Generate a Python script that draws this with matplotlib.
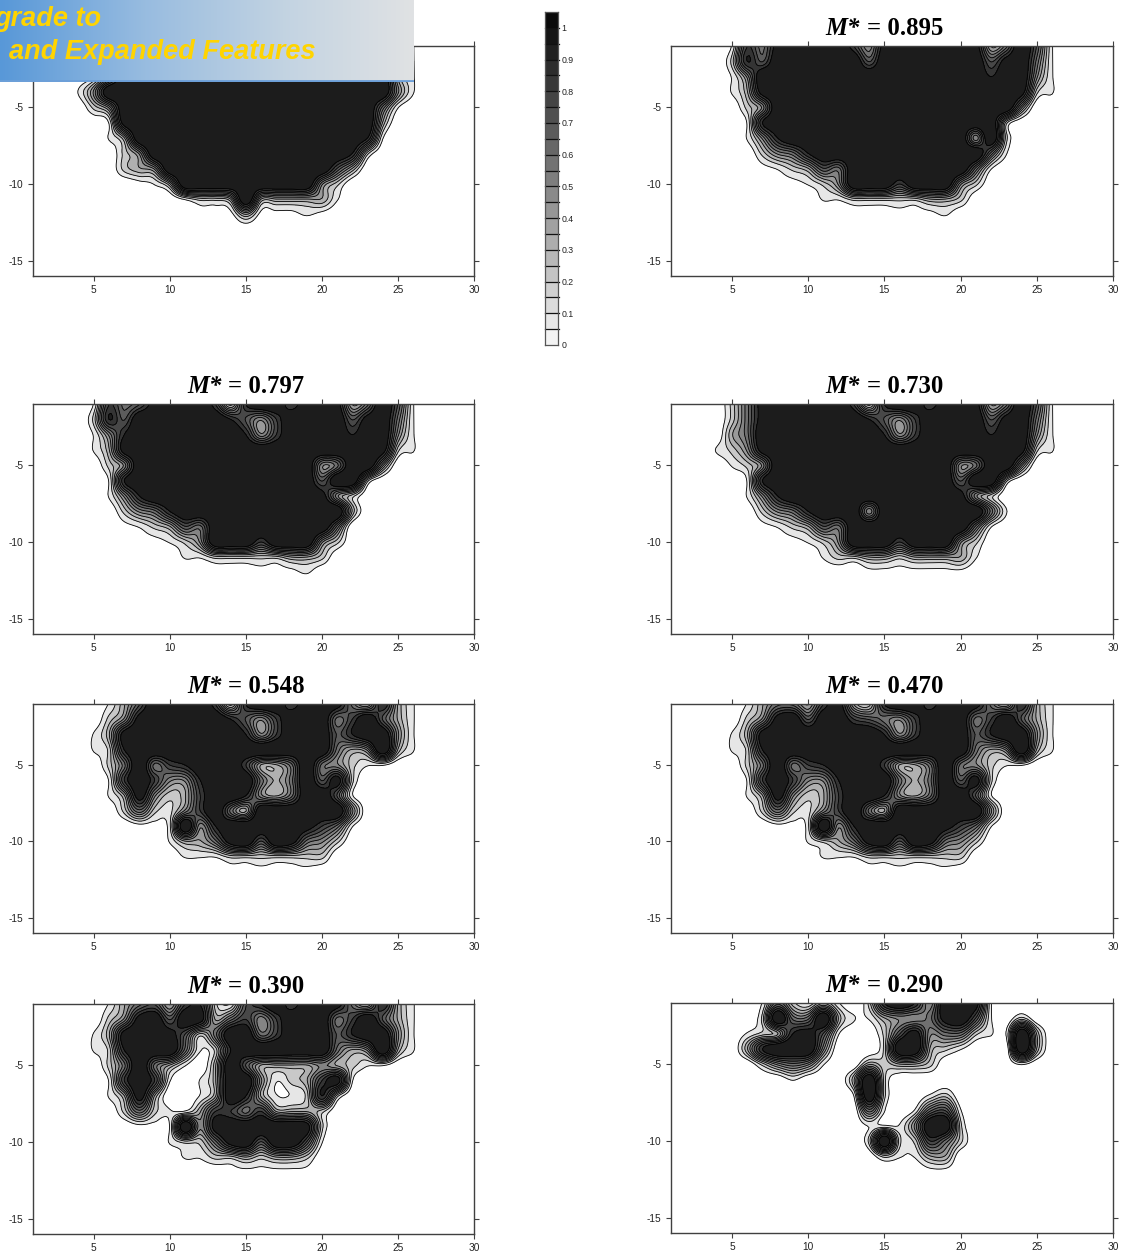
import numpy as np
import matplotlib
matplotlib.use("Agg")
import matplotlib.pyplot as plt

W, H = 1126, 1258

# Grid readings: each string is one depth row (y=-1, -2, ...), each char one x (1..30).
# Digits are tenths, A = 1.0, h = 0.05, k = 0.15; omitted cells are zero.
P1 = ["00001"+"38"+"A"*17+"51", "000025"+"A"*18+"41", "000014"+"A"*18+"31",
      "00014"+"A"*19+"41", "000024"+"A"*17+"51", "0000019"+"A"*16+"3",
      "0000013"+"A"*15+"81", "00000024"+"A"*13+"82", "000000234"+"A"*11+"63",
      "0000000h13"+"A"*9+"42", "0000000000"+"1223A333331", "00000000000"+"hhh3hhh1h"]
P2 = ["00001759AAAA749AAAAA935A61", "0000286AAAAAA6AAAAAAA69A51", "000014"+"A"*15+"8AA41",
      "0000139"+"A"*16+"921", "0000024A"+"A"*15+"4", "0000018"+"A"*15+"2",
      "00000148"+"A"*12+"4A2", "0000002458"+"A"*11+"51", "000000h12365"+"A"*8+"51",
      "0000000hh124AAA7AAA42", "0000000000"+"1122222332", "000000000000"+"hhhhhh1"]
P3 = ["000017569AAA728AA7AA935A61", "0000286"+"A"*6+"8647"+"A"*4+"69A51",
      "0000148"+"A"*7+"847"+"A"*4+"8AA41", "0000139"+"A"*16+"921",
      "0000024A"+"A"*11+"45AA4", "0000018"+"A"*12+"6AA2", "00000148"+"A"*11+"942",
      "0000002458"+"A"*11+"3", "000000h12365"+"A"*8+"5", "0000000hh124AAA7AAA42",
      "0000000000"+"1122222332", "000000000000"+"hhhhhh1"]
P4 = ["0000"+"259"+"A"*5+"728AA7AA935A61", "0000259"+"A"*6+"8647"+"A"*4+"69A51",
      "000035"+"A"*8+"847"+"A"*4+"8AA41", "0001249"+"A"*16+"921",
      "0000124A"+"A"*11+"45AA4", "0000018"+"A"*12+"6AA2", "00000148"+"A"*11+"942",
      "0000002458"+"AAA"+"4"+"A"*7+"51", "000000h12365"+"A"*8+"51",
      "0000000hh124AAA7AAA42", "0000000000"+"12233233331", "0"*13+"hhhhhhh"]
P5 = ["00000136AAAA728AA7AA953831", "00000249AAAAA8647AAA57A631",
      "0000139"+"A"*7+"847AAA68AA41", "0000128"+"A"*13+"534A31",
      "0000025A578AAA7335A54211", "0000017A7448AAA535A692", "000001394237AA8435AA61",
      "000000252k47A53AAAAAA4", "0000000hhkA48"+"A"*5+"9751",
      "000000000133"+"59A6A9542", "0000000000"+"1112222222", "0"*13+"hhhhhh"]
P6 = ["00000"+"135537932"+"8AA7AA953831", "00000"+"249A6AA76547"+"AAA"+"57A631",
      "0000139"+"A"*7+"847AAA68AA41", "0000128"+"A"*13+"534A31",
      "0000025A578AAA7335A54211", "0000017A7448AAA535A692", "000001394237AA8435AA61",
      "000000252k47A53AAAAAA4", "0000000hhkA48"+"A"*5+"9751",
      "000000000123"+"59A6A9542", "0000000000"+"1112222222", "0"*13+"hhhhhh"]
P7 = ["00000"+"135637821"+"68A7AA953831", "00000"+"249A6A935747"+"AAA"+"57A631",
      "0000"+"139AA9625AA57"+"AAA"+"68AA41", "0000"+"128"+"AAA"+"5128"+"A"*6+"534A31",
      "00000"+"25A5310"+"3A6"+"3333"+"43211", "00000"+"17A71013AA4123791",
      "00000"+"1393001"+"3A83"+"11282", "000000"+"25211377573332",
      "0000000hh1A49"+"A"*5+"92", "000000000"+"12259A6AA61", "0000000000"+"112232332", "0"*13+"hhhhhh"]
P8 = ["000000"+"1521310"+"28A84AA91", "000000"+"2A55A31134459A6102",
      "00000"+"123896100269455211A3", "00000"+"38AAA40002AA321000A3",
      "000000"+"245410032332000001", "00000000"+"1"+"000"+"3A2", "0"*12+"1A20012",
      "0"*13+"5101561", "0"*13+"1114AA2", "0"*13+"2A22752", "0"*14+"21133", "0"*17+"hh"]

titles = [None, "0.895", "0.797", "0.730", "0.548", "0.470", "0.390", "0.290"]
grids = [P1, P2, P3, P4, P5, P6, P7, P8]
x_ticks = [5, 10, 15, 20, 25, 30]
y_ticks = [-5, -10, -15]
bar_ticks = [0, 0.1, 0.2, 0.3, 0.4, 0.5, 0.6, 0.7, 0.8, 0.9, 1]
bar_labels = ["0", "0.1", "0.2", "0.3", "0.4", "0.5", "0.6", "0.7", "0.8", "0.9", "1"]

# panel boxes in pixels: left, right, top, bottom
boxes = [(33, 474, 46, 276), (671, 1113, 46, 276), (33, 474, 404, 634), (671, 1113, 404, 634),
         (33, 474, 704, 933), (671, 1113, 704, 933), (33, 474, 1004, 1234), (671, 1113, 1003, 1233)]

levels = [0.09, 0.17, 0.24, 0.31, 0.38, 0.45, 0.53, 0.61, 0.7, 0.8]
shades = ["#e6e6e6", "#c8c8c8", "#b0b0b0", "#9a9a9a", "#848484", "#707070",
          "#5c5c5c", "#484848", "#343434", "#1c1c1c"]
AX = "#404040"
CODES = {"A": 1.0, "h": 0.05, "k": 0.15}


def decode(rows):
    g = np.zeros((16, 30))
    for j, r in enumerate(rows):
        for i, c in enumerate(r):
            g[j, i] = CODES[c] if c in CODES else int(c) / 10
    return g


def cubic_up(a, n, axis):
    a = np.moveaxis(a, axis, 0)
    p = np.concatenate([a[:1], a, a[-1:]], axis=0)
    m = a.shape[0]
    t = np.linspace(0, m - 1, (m - 1) * n + 1)
    i = np.minimum(t.astype(int), m - 2)
    u = (t - i).reshape((-1,) + (1,) * (a.ndim - 1))
    p0, p1, p2, p3 = p[i], p[i + 1], p[i + 2], p[i + 3]
    r = 0.5 * (2 * p1 + (p2 - p0) * u + (2 * p0 - 5 * p1 + 4 * p2 - p3) * u ** 2
               + (3 * p1 - p0 - 3 * p2 + p3) * u ** 3)
    return np.moveaxis(r, 0, axis), t


def pixel_axes(fig, l, r, t, b, **kw):
    return fig.add_axes([l / W, 1 - b / H, (r - l) / W, (b - t) / H], **kw)


fig = plt.figure(figsize=(W / 100, H / 100), dpi=100, facecolor="white")
tfont = dict(family="Liberation Serif", weight="bold", fontsize=17.8, color="black", va="baseline")

for rows, title, (l, r, t, b) in zip(grids, titles, boxes):
    ax = pixel_axes(fig, l, r, t, b)
    z = decode(rows)
    z, tx = cubic_up(z, 8, 1)
    z, ty = cubic_up(z, 8, 0)
    X = 1 + tx
    Y = -1 - ty
    ax.contourf(X, Y, z, levels=levels + [3], colors=shades)
    ax.contour(X, Y, z, levels=levels, colors="black", linewidths=0.6)
    ax.set_xlim(1, 30)
    ax.set_ylim(-16, -1)
    ax.set_xticks(x_ticks)
    ax.set_yticks(y_ticks)
    ax.set_yticklabels([str(v) for v in y_ticks])
    ax.tick_params(axis="both", which="major", direction="out", length=3.8, width=0.8, color=AX,
                   labelsize=7.3, labelcolor="#222222", pad=3, top=True, right=True)
    for lab in ax.get_xticklabels() + ax.get_yticklabels():
        lab.set_family("Liberation Sans")
    for s in ax.spines.values():
        s.set_color(AX)
        s.set_linewidth(1.0)
    if title:
        c = (l + r) / 2 - 8
        fig.text((c - 24) / W, 1 - (t - 11) / H, "M*", ha="right", style="italic", **tfont)
        fig.text((c - 17) / W, 1 - (t - 11) / H, "= " + title, ha="left", **tfont)

# colour bar
cax = pixel_axes(fig, 545, 558, 12, 345)
edges = np.arange(0, 22) * 0.05
cell = np.linspace(0.95, 0.04, 21)
cax.pcolormesh([0, 1], edges, cell[:, None], cmap="gray", vmin=0, vmax=1, shading="flat")
for e in edges[1:-1]:
    cax.plot([0, 1.1], [e, e], color="#111111", lw=0.9, clip_on=False)
cax.set_xlim(0, 1)
cax.set_ylim(0, 1.05)
cax.set_xticks([])
cax.set_yticks(bar_ticks)
cax.set_yticklabels(bar_labels, family="Liberation Sans", fontsize=6.3, color="#222222")
cax.yaxis.tick_right()
cax.tick_params(axis="y", length=0, pad=2.5)
for s in cax.spines.values():
    s.set_color("#555555")
    s.set_linewidth(0.9)

# banner overlay
bax = pixel_axes(fig, 0, 414, 0, 82, zorder=10)
stops_x = [0, 0.35, 0.7, 1]
stops = np.array([[0x58, 0x98, 0xD8], [0x98, 0xBC, 0xE0], [0xC4, 0xD4, 0xE2], [0xE0, 0xE2, 0xE4]]) / 255
xx = np.linspace(0, 1, 256)
grad = np.stack([np.interp(xx, stops_x, stops[:, k]) for k in range(3)], axis=1)[None, :, :]
bax.imshow(grad, extent=[0, 1, 0, 1], aspect="auto")
bax.axhline(0.015, color="#6C9FD8", lw=2)
bax.set_xlim(0, 1)
bax.set_ylim(0, 1)
bax.axis("off")
bfont = dict(family="Liberation Sans", weight="bold", style="italic", color="#FFD400", fontsize=19.5, va="baseline")
fig.text(101 / W, 1 - 26 / H, "grade to", ha="right", zorder=11, **bfont)
fig.text(9 / W, 1 - 59 / H, "and Expanded Features", ha="left", zorder=11, **bfont)

fig.savefig("out.png", dpi=100, facecolor="white")
